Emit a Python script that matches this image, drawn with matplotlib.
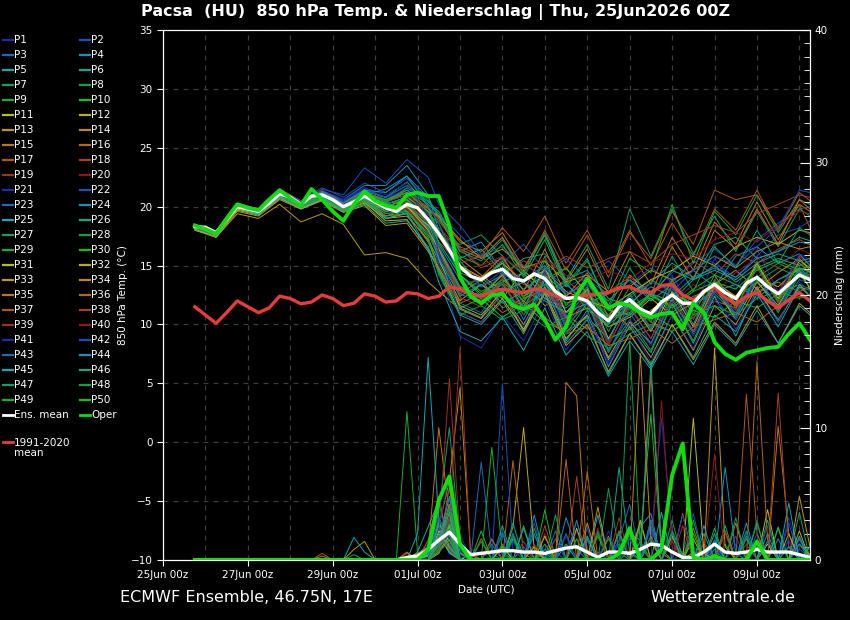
import matplotlib
matplotlib.use("Agg")
import matplotlib.pyplot as plt
import matplotlib.dates as mdates
from matplotlib.lines import Line2D
from matplotlib.ticker import MultipleLocator
import pandas as pd

# forecast run 25Jun2026 00Z, Pacsa (HU)
times_6h = pd.date_range("2026-06-25 18:00", "2026-07-10 06:00", freq="6h")
# member temperatures: 06/18z until 01Jul, then 00/12z, last step 10Jul 06z
times_member = (pd.date_range("2026-06-25 18:00", "2026-07-01 06:00", freq="12h")
                .append(pd.date_range("2026-07-01 12:00", "2026-07-10 00:00", freq="12h"))
                .append(pd.DatetimeIndex(["2026-07-10 06:00"])))
tick_days = pd.date_range("2026-06-25", "2026-07-09", freq="2D")

# 850 hPa temperature, 6-hourly
ens_mean_temp = [18.3, 18.25, 17.8, 18.9, 20.0, 19.8, 19.6, 20.3, 21.1, 20.8,
                 20.2, 20.9, 21.0, 20.6, 20.0, 20.4, 20.9, 20.4, 19.9, 19.6,
                 20.2, 19.9, 18.9, 17.7, 16.3, 14.9, 14.1, 13.8, 14.4, 14.7,
                 13.9, 13.7, 14.3, 13.9, 12.8, 12.2, 12.3, 12.0, 11.0, 10.3,
                 11.5, 12.1, 11.3, 10.9, 11.9, 12.5, 11.8, 11.8, 12.8, 13.4,
                 12.7, 12.2, 13.5, 14.0, 13.2, 12.6, 13.4, 14.2, 13.8]
oper_temp = [18.4, 18.1, 17.7, 19.0, 20.2, 19.9, 19.7, 20.6, 21.4, 20.7,
             20.1, 21.5, 20.6, 19.6, 18.8, 20.2, 21.3, 20.5, 20.1, 19.9,
             21.0, 21.2, 20.9, 20.9, 18.4, 14.0, 12.4, 11.8, 12.5, 12.6,
             11.6, 11.3, 11.7, 10.4, 8.7, 9.8, 12.5, 13.9, 12.6, 11.4,
             11.8, 11.6, 11.0, 10.6, 10.9, 11.0, 9.6, 11.8, 11.0, 8.5,
             7.5, 7.0, 7.6, 7.8, 8.0, 8.1, 9.2, 10.1, 8.7]
clim_temp = [11.5, 10.8, 10.1, 11.0, 12.0, 11.5, 11.0, 11.4, 12.4, 12.2,
             11.75, 11.9, 12.5, 12.2, 11.6, 11.8, 12.6, 12.4, 11.9, 12.0,
             12.7, 12.6, 12.2, 12.4, 13.2, 13.0, 12.6, 12.4, 12.8, 13.0,
             12.8, 12.7, 13.0, 12.9, 12.4, 12.2, 12.4, 12.5, 12.6, 12.7,
             13.1, 13.2, 12.8, 12.7, 13.3, 13.4, 12.5, 12.1, 12.8, 13.2,
             12.3, 11.7, 12.4, 12.7, 12.0, 11.4, 12.1, 12.7, 12.0]

# precipitation (mm), 6-hourly
ens_mean_precip = [0] * 20 + [0.2, 0.3, 0.8, 1.5, 2.1, 1.2, 0.4, 0.5, 0.6, 0.7,
                              0.7, 0.6, 0.6, 0.5, 0.7, 0.9, 1.0, 0.6, 0.2, 0.6,
                              0.6, 0.5, 0.8, 1.2, 1.1, 0.6, 0.2, 0.2, 0.6, 1.2,
                              0.6, 0.5, 0.6, 0.8, 0.6, 0.6, 0.6, 0.4, 0.2]
oper_precip = [0] * 22 + [0.8, 4.5, 6.3, 1.2, 0, 0, 0, 0, 0, 0,
                          0, 0, 0, 0, 0, 0, 0, 0, 0.5, 2.4,
                          0, 0, 0.8, 6.4, 8.8, 0.2, 0, 0.3, 0, 0,
                          0, 1.4, 0, 0, 0, 0, 0]

# members P1..P50: 850 hPa temperature on times_member
t_p01 = [18.2, 17.6, 19.9, 19.5, 21.0, 20.3, 21.3, 20.5, 21.5, 20.8, 21.4, 19.5, 17.6, 14.0, 13.2, 15.6, 12.4, 14.8, 10.2, 12.9, 8.6, 12.4, 9.8, 14.2, 11.0, 15.6, 13.0, 16.4, 12.8, 15.9, 15.1]
t_p02 = [18.4, 17.9, 20.1, 19.7, 21.3, 20.1, 21.5, 21.0, 23.3, 22.0, 24.0, 22.5, 20.2, 18.4, 16.0, 15.2, 16.8, 14.6, 13.2, 14.0, 15.4, 13.8, 12.6, 14.4, 16.0, 15.2, 14.0, 15.8, 17.6, 18.2, 18.8]
t_p03 = [18.1, 17.4, 19.8, 19.4, 20.9, 20.0, 20.8, 19.8, 20.6, 19.2, 19.9, 17.0, 15.1, 11.8, 11.0, 13.6, 10.4, 13.8, 9.6, 12.2, 7.6, 11.4, 8.8, 12.6, 9.4, 13.4, 10.6, 14.2, 11.2, 13.8, 13.5]
t_p04 = [18.3, 17.7, 20.2, 19.8, 21.4, 20.4, 21.2, 20.2, 21.0, 21.5, 22.6, 20.8, 19.0, 16.2, 17.0, 14.6, 13.8, 15.0, 12.4, 11.8, 12.6, 13.8, 12.0, 13.4, 14.6, 13.2, 15.8, 16.6, 15.2, 16.0, 15.0]
t_p05 = [18.0, 17.5, 19.9, 19.3, 21.0, 20.0, 21.1, 20.0, 21.2, 19.0, 19.5, 17.8, 15.6, 11.4, 10.6, 13.0, 9.4, 13.8, 8.6, 11.2, 6.4, 10.0, 7.6, 11.8, 8.4, 12.4, 9.0, 13.0, 10.4, 13.2, 12.9]
t_p06 = [18.4, 17.8, 20.0, 19.6, 21.2, 20.3, 21.0, 20.1, 20.7, 20.2, 20.8, 19.6, 18.0, 15.4, 13.2, 14.2, 15.6, 16.0, 13.8, 14.6, 12.2, 11.6, 13.6, 15.2, 14.0, 16.8, 17.4, 15.6, 16.2, 17.4, 17.1]
t_p07 = [18.2, 17.9, 20.1, 19.5, 21.0, 20.1, 21.2, 20.1, 21.0, 20.5, 21.0, 19.0, 18.0, 14.6, 13.8, 15.2, 11.8, 15.8, 11.0, 13.2, 9.4, 12.6, 9.6, 13.4, 10.0, 13.8, 12.2, 15.2, 11.8, 14.8, 14.0]
t_p08 = [18.5, 17.9, 20.2, 19.7, 21.3, 20.4, 21.3, 20.3, 21.4, 20.8, 22.1, 20.0, 17.6, 16.8, 17.6, 15.8, 14.2, 13.4, 14.8, 12.6, 10.8, 12.4, 13.8, 12.8, 11.6, 13.0, 12.2, 14.0, 15.2, 14.4, 14.2]
t_p09 = [18.3, 17.8, 19.9, 19.6, 21.1, 20.2, 20.9, 19.9, 20.5, 19.4, 19.7, 17.6, 16.1, 13.0, 12.2, 13.4, 10.8, 13.2, 9.2, 11.8, 7.8, 10.4, 7.8, 11.8, 8.6, 12.6, 10.8, 13.8, 11.0, 14.2, 13.2]
t_p10 = [18.4, 17.8, 20.0, 19.6, 21.1, 20.2, 21.0, 20.0, 21.0, 20.3, 20.5, 19.3, 18.6, 14.2, 12.8, 13.6, 12.0, 13.8, 14.8, 12.6, 11.2, 10.8, 12.4, 11.6, 13.0, 14.2, 13.4, 12.6, 13.8, 14.6, 13.9]
t_p11 = [18.2, 17.6, 19.8, 19.4, 20.8, 19.8, 20.6, 19.6, 20.4, 18.8, 18.9, 16.4, 14.6, 11.0, 10.2, 12.2, 9.6, 12.8, 8.8, 10.8, 7.2, 10.2, 8.4, 12.0, 9.4, 13.2, 10.4, 13.6, 11.6, 14.6, 13.0]
t_p12 = [18.1, 17.5, 19.7, 19.3, 20.7, 19.9, 20.6, 19.7, 20.3, 19.0, 19.2, 17.2, 15.4, 12.0, 13.4, 12.2, 14.6, 12.8, 10.6, 11.4, 9.8, 10.6, 12.2, 10.8, 11.8, 13.6, 12.4, 14.0, 13.2, 14.8, 14.5]
t_p13 = [18.0, 17.4, 19.4, 19.0, 20.2, 18.7, 19.4, 18.5, 15.9, 16.1, 15.6, 13.6, 12.8, 11.3, 10.5, 12.6, 10.0, 13.2, 9.2, 10.8, 7.0, 9.8, 7.2, 10.8, 7.8, 11.6, 10.0, 13.2, 10.2, 13.4, 12.4]
t_p14 = [18.3, 17.7, 19.9, 19.5, 21.0, 20.2, 21.1, 20.0, 20.8, 19.6, 20.0, 18.4, 17.8, 15.6, 14.2, 12.8, 13.6, 11.6, 12.4, 13.8, 11.4, 9.8, 11.2, 12.6, 11.8, 13.4, 14.6, 13.0, 14.4, 15.6, 14.6]
t_p15 = [18.4, 17.9, 20.3, 19.8, 21.5, 20.5, 21.4, 20.4, 21.2, 20.6, 21.2, 19.8, 19.2, 17.0, 16.2, 17.8, 14.8, 17.6, 13.6, 16.4, 12.6, 16.2, 13.4, 17.4, 14.6, 18.7, 16.8, 20.4, 17.2, 20.2, 19.6]
t_p16 = [18.2, 17.7, 20.0, 19.6, 21.0, 20.0, 20.9, 19.8, 20.6, 19.8, 20.4, 18.6, 16.4, 12.6, 13.8, 11.4, 12.2, 13.0, 10.8, 9.6, 10.4, 11.8, 10.2, 9.4, 10.6, 12.0, 11.4, 12.8, 13.6, 12.8, 13.2]
t_p17 = [18.3, 17.8, 20.1, 19.7, 21.2, 20.3, 21.1, 20.1, 21.1, 20.4, 21.4, 19.9, 19.0, 16.6, 15.8, 18.2, 16.2, 19.2, 15.2, 18.0, 14.4, 18.0, 15.0, 18.6, 15.8, 19.8, 18.0, 21.4, 18.0, 21.2, 20.5]
t_p18 = [18.4, 17.8, 20.0, 19.6, 21.1, 20.2, 21.0, 20.0, 20.9, 20.0, 20.6, 19.0, 18.2, 16.4, 14.8, 15.6, 13.4, 12.6, 13.8, 12.2, 12.8, 14.0, 12.8, 13.6, 15.4, 14.2, 16.0, 15.2, 16.4, 17.2, 16.8]
t_p19 = [18.3, 17.7, 19.9, 19.5, 21.0, 20.1, 20.9, 19.9, 20.8, 19.6, 20.0, 18.2, 16.2, 12.3, 11.5, 14.0, 11.2, 14.4, 10.0, 12.2, 8.2, 11.8, 9.8, 13.4, 10.4, 13.8, 11.8, 15.4, 12.6, 15.8, 15.0]
t_p20 = [18.2, 17.6, 19.8, 19.4, 20.9, 20.0, 20.8, 19.8, 20.7, 19.5, 19.8, 18.0, 16.6, 13.2, 14.0, 12.6, 13.8, 12.2, 11.6, 12.8, 10.4, 11.2, 12.6, 11.8, 13.4, 12.6, 14.4, 15.6, 14.8, 16.4, 16.0]
t_p21 = [18.3, 17.6, 20.0, 19.6, 21.2, 20.3, 21.2, 20.4, 21.6, 20.6, 21.6, 18.5, 15.2, 9.0, 8.0, 10.8, 8.6, 12.2, 7.8, 10.6, 6.6, 10.0, 6.8, 10.8, 8.0, 12.0, 10.4, 14.0, 12.2, 16.0, 15.5]
t_p22 = [18.4, 17.8, 20.2, 19.8, 21.4, 20.5, 21.6, 20.8, 22.0, 21.2, 22.4, 20.6, 19.4, 17.6, 15.8, 16.6, 15.0, 14.2, 15.6, 13.8, 12.6, 13.4, 14.8, 13.6, 15.2, 16.4, 15.0, 17.2, 18.6, 19.8, 20.0]
t_p23 = [18.2, 17.6, 19.9, 19.5, 21.0, 20.1, 21.0, 20.0, 21.0, 20.0, 20.6, 18.0, 15.8, 12.6, 11.8, 13.6, 10.4, 14.0, 9.8, 11.8, 7.6, 11.0, 8.4, 12.2, 9.2, 12.8, 11.0, 14.2, 11.2, 14.4, 13.6]
t_p24 = [18.3, 17.8, 20.0, 19.7, 21.3, 20.4, 21.3, 20.6, 21.8, 21.8, 23.5, 21.0, 18.0, 14.2, 12.4, 13.6, 14.4, 12.2, 11.4, 12.8, 10.2, 11.6, 10.8, 12.4, 11.6, 12.8, 13.4, 12.2, 13.8, 14.8, 14.4]
t_p25 = [18.1, 17.5, 19.8, 19.3, 20.8, 19.9, 20.7, 19.6, 20.2, 18.6, 18.8, 16.6, 14.4, 10.8, 10.0, 12.0, 9.2, 12.8, 8.4, 10.4, 5.8, 9.2, 6.4, 10.0, 7.2, 10.8, 9.4, 12.6, 9.8, 13.2, 12.4]
t_p26 = [18.4, 17.9, 20.1, 19.7, 21.2, 20.2, 21.1, 20.2, 21.2, 20.4, 21.0, 19.4, 17.6, 15.6, 16.4, 14.4, 13.0, 14.2, 12.6, 13.4, 12.0, 13.8, 12.4, 14.6, 13.8, 15.0, 13.6, 14.8, 15.6, 15.0, 15.4]
t_p27 = [18.3, 17.8, 20.0, 19.6, 21.1, 20.2, 21.1, 20.1, 21.0, 20.3, 21.6, 20.4, 19.6, 16.4, 15.6, 17.4, 14.2, 17.8, 13.8, 16.8, 13.0, 19.8, 15.8, 19.8, 16.0, 19.2, 16.2, 19.6, 16.6, 19.8, 19.2]
t_p28 = [18.2, 17.7, 19.9, 19.5, 21.0, 20.1, 21.0, 19.9, 20.7, 19.8, 20.2, 18.6, 16.2, 13.0, 14.0, 12.4, 11.6, 12.8, 13.6, 11.2, 10.0, 11.4, 12.6, 11.0, 12.4, 13.0, 12.2, 13.6, 14.8, 14.0, 14.6]
t_p29 = [18.4, 17.9, 20.2, 19.7, 21.2, 20.3, 21.2, 20.2, 21.3, 20.8, 21.8, 20.5, 19.2, 15.8, 15.0, 16.8, 14.0, 17.2, 13.2, 15.4, 11.6, 15.6, 14.4, 20.2, 15.2, 19.6, 17.6, 21.0, 17.8, 20.6, 20.2]
t_p30 = [18.3, 17.8, 20.0, 19.5, 21.0, 20.0, 20.8, 19.6, 20.4, 19.2, 19.6, 17.4, 14.6, 11.4, 12.2, 10.6, 11.8, 10.2, 9.4, 10.6, 8.8, 9.6, 10.8, 9.8, 11.2, 10.6, 12.0, 11.4, 12.6, 13.4, 13.0]
t_p31 = [18.2, 17.6, 19.8, 19.4, 20.9, 20.1, 20.9, 19.8, 20.6, 19.6, 20.0, 18.0, 16.4, 13.2, 12.4, 14.2, 11.4, 14.8, 11.0, 13.0, 8.8, 12.0, 9.4, 12.8, 9.8, 13.6, 11.8, 15.2, 12.2, 15.4, 14.8]
t_p32 = [18.3, 17.7, 20.0, 19.6, 21.1, 20.1, 20.9, 19.9, 20.8, 19.8, 20.0, 18.4, 17.4, 15.0, 14.0, 15.2, 13.6, 14.6, 12.8, 12.0, 11.4, 12.6, 13.8, 14.6, 15.8, 15.0, 16.6, 17.4, 16.8, 18.0, 17.8]
t_p33 = [18.1, 17.4, 19.6, 19.2, 20.6, 19.8, 20.5, 19.5, 20.1, 18.4, 18.6, 16.2, 14.8, 11.6, 10.8, 12.8, 9.4, 12.6, 8.2, 10.0, 6.0, 9.2, 6.6, 10.0, 7.0, 10.2, 8.4, 11.6, 8.4, 11.8, 11.0]
t_p34 = [18.4, 17.9, 20.1, 19.7, 21.2, 20.2, 21.1, 20.0, 20.9, 20.2, 20.8, 19.6, 19.2, 17.2, 15.6, 16.4, 14.8, 15.4, 13.6, 14.2, 12.8, 13.2, 14.6, 13.8, 14.6, 15.8, 14.8, 16.2, 17.0, 16.4, 16.6]
t_p35 = [18.3, 17.8, 20.0, 19.6, 21.1, 20.2, 21.0, 20.0, 20.9, 20.0, 20.6, 19.0, 17.8, 14.8, 14.0, 15.8, 12.8, 16.4, 12.4, 14.4, 10.6, 14.2, 12.6, 16.6, 13.8, 18.0, 16.4, 19.8, 16.8, 20.6, 19.8]
t_p36 = [18.2, 17.7, 19.9, 19.5, 21.0, 20.1, 20.9, 19.8, 20.5, 19.2, 19.4, 17.0, 14.8, 11.8, 12.6, 11.0, 12.0, 10.6, 9.2, 9.8, 8.2, 8.8, 9.6, 8.4, 9.8, 10.4, 11.0, 10.2, 11.6, 12.4, 12.2]
t_p37 = [18.4, 17.9, 20.2, 19.8, 21.4, 20.4, 21.3, 20.3, 21.2, 20.6, 21.2, 19.8, 18.8, 16.4, 15.6, 17.4, 14.6, 18.0, 14.6, 17.6, 14.0, 17.8, 15.6, 19.6, 16.8, 21.4, 20.6, 21.0, 18.2, 20.2, 18.2]
t_p38 = [18.3, 17.7, 20.0, 19.6, 21.1, 20.2, 21.0, 20.0, 20.8, 19.8, 20.2, 18.8, 17.0, 15.2, 15.8, 14.2, 15.4, 14.6, 15.8, 14.8, 15.6, 16.2, 15.2, 16.8, 17.6, 18.4, 17.8, 19.4, 20.2, 21.0, 20.8]
t_p39 = [18.2, 17.6, 19.9, 19.5, 21.0, 20.0, 20.9, 19.9, 20.8, 19.6, 19.8, 17.8, 16.0, 12.8, 12.0, 13.6, 10.8, 14.2, 10.4, 12.4, 8.4, 11.6, 8.8, 12.2, 9.4, 13.0, 11.2, 14.8, 11.8, 15.6, 14.0]
t_p40 = [18.4, 17.8, 20.1, 19.7, 21.2, 20.3, 21.2, 20.2, 21.2, 20.4, 21.0, 19.4, 17.8, 16.4, 15.0, 15.8, 14.4, 15.6, 14.2, 13.6, 14.6, 13.8, 15.2, 16.0, 15.6, 17.2, 17.8, 17.0, 18.4, 19.6, 19.4]
t_p41 = [18.3, 17.7, 20.0, 19.7, 21.3, 20.4, 21.4, 20.6, 21.6, 21.0, 22.0, 19.2, 16.2, 11.0, 10.2, 12.6, 9.8, 13.4, 9.2, 11.0, 6.8, 10.4, 8.2, 12.0, 9.0, 12.6, 9.6, 12.8, 10.2, 13.6, 12.8]
t_p42 = [18.2, 17.6, 20.0, 19.5, 21.1, 20.2, 21.2, 20.4, 21.4, 20.8, 21.8, 20.2, 18.6, 15.0, 13.2, 14.6, 13.8, 14.8, 12.6, 13.4, 11.4, 12.2, 13.6, 12.8, 14.6, 15.8, 15.0, 16.6, 18.2, 21.4, 21.2]
t_p43 = [18.3, 17.8, 20.1, 19.6, 21.2, 20.2, 21.1, 20.1, 21.1, 20.2, 20.8, 18.8, 16.6, 13.2, 12.4, 14.4, 11.4, 14.6, 10.6, 12.8, 8.6, 12.2, 9.6, 13.2, 10.0, 13.6, 10.8, 14.2, 11.4, 14.6, 14.0]
t_p44 = [18.4, 17.9, 20.2, 19.7, 21.2, 20.3, 21.2, 20.3, 21.4, 21.2, 22.6, 20.0, 16.8, 13.8, 11.8, 12.8, 13.6, 12.2, 13.4, 11.8, 10.6, 11.8, 13.2, 12.4, 14.0, 14.8, 14.0, 15.6, 16.2, 17.0, 16.8]
t_p45 = [18.2, 17.6, 19.9, 19.4, 20.9, 20.0, 20.8, 19.7, 20.6, 19.0, 19.4, 16.4, 13.6, 9.4, 8.6, 10.6, 7.8, 11.4, 7.4, 9.4, 5.6, 8.6, 6.2, 9.4, 6.6, 10.0, 8.2, 11.2, 8.4, 11.6, 10.8]
t_p46 = [18.3, 17.8, 20.0, 19.6, 21.1, 20.1, 21.0, 19.9, 20.7, 19.6, 20.2, 18.2, 15.6, 12.4, 13.4, 11.8, 12.8, 12.0, 11.0, 11.8, 9.8, 10.8, 12.6, 12.0, 13.8, 14.6, 13.8, 15.2, 16.0, 15.4, 15.6]
t_p47 = [18.4, 17.9, 20.1, 19.7, 21.2, 20.3, 21.2, 20.1, 21.0, 20.6, 21.4, 20.2, 19.4, 16.2, 15.4, 17.2, 14.4, 17.6, 13.4, 15.6, 11.4, 14.8, 12.0, 15.8, 12.8, 16.6, 14.8, 18.0, 15.2, 18.2, 17.6]
t_p48 = [18.2, 17.7, 19.9, 19.5, 21.0, 20.1, 20.9, 19.8, 20.6, 19.4, 19.6, 17.4, 14.2, 10.8, 11.6, 10.4, 11.2, 9.8, 10.6, 9.0, 8.0, 9.2, 10.0, 9.4, 10.8, 11.6, 10.8, 12.2, 12.8, 12.2, 12.6]
t_p49 = [18.3, 17.8, 20.0, 19.6, 21.2, 20.2, 21.1, 20.1, 21.2, 20.4, 21.2, 19.6, 17.8, 14.4, 13.6, 15.4, 12.2, 15.4, 11.6, 13.8, 10.0, 13.2, 10.2, 13.8, 10.8, 14.2, 11.4, 15.0, 12.0, 15.2, 14.4]
t_p50 = [18.4, 17.8, 20.1, 19.7, 21.1, 20.1, 21.0, 20.0, 20.9, 20.0, 20.6, 18.9, 17.0, 14.2, 12.6, 13.8, 12.4, 13.4, 11.8, 12.4, 10.6, 11.0, 12.6, 11.4, 12.8, 13.6, 13.0, 14.6, 15.4, 14.6, 15.0]

# members P1..P50: precipitation (mm), 6-hourly
r_p01 = [0] * 19 + [0, 0, 0.4, 1.2, 2.5, 1.0, 0, 0.8, 0.6, 0, 0, 1.4, 0, 1.8, 0.4, 0, 0, 2.2, 0, 0, 0.3, 0, 0, 1.0, 1.5, 10.7, 2.0, 0, 0, 0.6, 0, 0, 1.2, 0, 0, 2.6, 0, 3.2, 0.5, 0]
r_p02 = [0] * 19 + [0, 0, 0, 0.5, 3.0, 2.2, 0.8, 0, 0, 1.5, 0.4, 0, 0, 2.8, 0, 0.6, 0, 0, 2.4, 0, 0, 1.2, 0, 1.0, 0, 0, 0, 0.5, 3.5, 0, 0, 0, 1.8, 0, 2.0, 0, 0, 0, 0.8, 0.2]
r_p03 = [0] * 19 + [0, 0, 0, 0, 1.0, 2.8, 0, 0, 7.4, 0.5, 0, 0, 1.0, 0, 0, 2.2, 0, 0, 0, 0.6, 0, 1.5, 4.2, 0, 0, 0, 1.8, 0, 0, 0, 1.2, 0, 0, 0, 3.0, 0, 0, 0, 0, 1.0]
r_p04 = [0] * 19 + [0, 0, 0, 0.8, 2.0, 0.5, 0, 0, 0, 0, 2.0, 0, 1.4, 0, 0, 0, 3.2, 0.8, 0, 0, 0, 0, 0, 2.5, 3.5, 0, 0, 0, 0, 1.2, 0, 0, 0, 2.8, 0, 2.0, 0, 0, 1.6, 0]
r_p05 = [0] * 19 + [0, 0, 0.6, 2.5, 4.5, 1.0, 0, 0.5, 0, 0, 0, 1.8, 0, 0, 0, 0, 1.2, 0, 0, 3.4, 0, 0, 0, 0, 0, 0, 2.2, 0.4, 0, 0, 1.5, 0, 0, 0, 0, 0, 2.5, 0, 0, 0]
r_p06 = [0] * 19 + [0, 0, 0, 0, 1.5, 3.2, 0.6, 0, 0, 0, 0, 2.0, 0, 0, 0.8, 0, 0, 0, 1.6, 0, 0, 0, 0.7, 0, 3.0, 0, 0, 0, 0, 2.0, 0, 0, 0, 1.6, 0, 0, 0, 1.0, 0, 0]
r_p07 = [0] * 19 + [0, 0, 0, 0.4, 3.6, 10.0, 1.0, 0, 0, 0, 1.2, 0, 0, 0, 0.5, 0, 0, 3.0, 0, 0, 0, 0, 0, 0, 1.4, 0, 0, 0, 0, 0, 0.8, 0, 0, 2.2, 0, 0, 0, 0, 3.6, 0]
r_p08 = [0] * 15 + [0.4, 0, 0, 0] + [0, 0, 0, 0, 0.6, 2.5, 0, 0, 0, 1.2, 0, 0, 0, 2.4, 0, 0, 0, 0, 0, 0, 5.4, 0.6, 0, 0, 0, 0, 3.0, 0, 0, 0, 0, 0, 0, 0, 0, 1.4, 0, 0, 0, 0.5]
r_p09 = [0] * 19 + [0, 11.2, 0.5, 0, 2.0, 0.8, 0, 0, 0, 0, 0, 0, 2.6, 0, 0, 0, 0, 0, 0, 1.8, 0, 0, 0, 0, 0, 0, 0, 0, 3.0, 0, 0, 1.2, 0, 0, 0, 0, 0, 0, 0, 0]
r_p10 = [0] * 19 + [0, 0, 0, 0, 1.2, 4.0, 0, 0, 0, 0, 0, 0, 0, 0, 3.8, 0, 0, 0, 0, 0, 0, 0, 2.0, 1.5, 11.0, 0.5, 0, 0, 0, 0, 0, 0, 0, 0, 1.5, 0, 0, 0, 0, 0]
r_p11 = [0] * 19 + [0, 0, 0, 0.3, 1.8, 0.6, 0, 0.4, 0, 0, 1.0, 0, 0, 0, 0, 0, 0, 2.4, 0, 0, 0, 0, 0, 0, 0, 0, 0, 0, 1.6, 0, 0, 0, 0, 0, 0, 3.8, 0, 0, 0, 0]
r_p12 = [0] * 19 + [0, 0, 0, 0, 0.8, 2.6, 0, 0, 0, 0, 0, 2.5, 10.0, 0.8, 0, 0, 0, 0, 0, 0, 0, 0, 0, 0, 0, 0, 1.8, 0, 0, 0, 0, 0, 0, 0, 0, 0, 0, 0, 2.2, 0]
r_p13 = [0] * 15 + [0.8, 1.4, 0, 0] + [0, 0.2, 0.5, 1.0, 2.4, 1.2, 0, 0, 0, 0, 0, 0, 0, 0, 0, 1.6, 0, 0, 0, 0, 0, 0, 0, 0, 0, 0, 0, 0, 0.6, 0, 16.0, 1.0, 0, 0, 0, 0, 0, 0, 0, 0]
r_p14 = [0] * 19 + [0, 0, 0, 0, 2.5, 6.0, 13.0, 0.5, 0, 0, 0, 0, 0, 0, 0, 0, 0, 0, 2.8, 0, 0, 0, 0, 0, 0, 0, 0, 3.5, 0, 0, 0, 0, 0, 0, 0, 0, 0, 0, 1.2, 0.4]
r_p15 = [0] * 19 + [0, 0, 0, 0.6, 10.0, 3.5, 0, 0, 0, 0, 0, 0, 0, 0, 0, 0, 0, 0, 0, 0, 0, 2.2, 0, 0, 0, 0, 0, 0, 0, 0, 0, 0, 2.8, 0, 0, 0, 10.1, 2.0, 0, 0]
r_p16 = [0] * 19 + [0, 0, 0, 0, 1.0, 2.0, 0.5, 0, 0, 0, 0, 7.5, 0.5, 0, 0, 0, 0, 0, 0, 0, 1.8, 0, 0, 0, 0, 0, 0, 0, 0, 0, 0, 0, 0, 0, 15.0, 1.5, 0, 0, 0, 0]
r_p17 = [0] * 12 + [0.5, 0, 0, 0, 0, 0, 0] + [0, 0.5, 0, 1.5, 4.8, 0.8, 0, 0, 1.6, 0, 0, 0, 0, 0, 0, 0, 0, 0, 0, 0, 0, 0, 0, 0, 0, 0, 0, 0, 0, 0, 0, 0, 0, 12.5, 2.0, 0, 0, 0, 0, 0]
r_p18 = [0] * 19 + [0, 0, 0, 0, 0.5, 3.2, 1.0, 0, 0, 0, 0, 0, 0, 0, 0, 0, 0, 6.3, 0, 0, 0, 0, 0, 0, 0, 0, 0, 0, 0, 0, 0, 2.0, 0, 0, 0, 0, 0, 0, 0, 0]
r_p19 = [0] * 19 + [0, 0, 0, 0, 2.0, 13.7, 1.5, 0, 0, 0, 0, 0, 0, 1.2, 0, 0, 0, 0, 0, 0, 0, 0, 0, 0, 0, 0, 0, 2.6, 0, 1.4, 0, 0, 0, 0, 0, 0, 0, 0, 0, 0]
r_p20 = [0] * 19 + [0, 0, 0, 0, 0.8, 1.6, 0, 0, 0, 0, 0, 0, 0, 0, 2.0, 0, 0, 0, 0, 0, 0, 0, 0, 0, 0, 12.0, 1.0, 0, 0, 0, 0, 0, 0, 0, 0, 0, 0, 0, 0, 0]
r_p21 = [0] * 19 + [0, 0, 0, 0.6, 2.0, 4.5, 2.0, 0, 0, 0, 0, 0, 0, 0, 0, 1.6, 0, 0, 0, 0, 2.2, 0, 0, 0, 0, 0, 0, 0, 0, 0, 1.0, 0, 0, 0, 0, 0, 0, 1.4, 0, 0]
r_p22 = [0] * 19 + [0, 0, 0, 0, 0.8, 1.2, 0, 0, 0, 0, 13.3, 0.8, 0, 0, 0, 0, 0, 0, 1.4, 0, 0, 0, 0, 0, 2.4, 0, 0, 0, 0, 0, 0, 0, 0, 2.0, 0, 0, 0, 0, 0, 0]
r_p23 = [0] * 19 + [0, 0, 0, 0, 1.5, 3.0, 0, 0, 0, 1.6, 0, 0, 0, 0, 0, 0, 0, 3.0, 0, 0, 0, 0, 0, 0, 2.6, 0, 0, 0, 0, 0, 0, 0, 0, 0, 1.4, 0, 0, 0, 0, 0]
r_p24 = [0] * 19 + [0, 0, 0, 0.5, 2.2, 0.6, 0, 0, 0, 0, 0, 0, 0, 3.4, 0, 0, 0, 0, 0, 0, 0, 2.0, 0, 0, 0, 0, 0, 0, 0, 0, 0, 7.0, 0.5, 0, 0, 0, 1.6, 0, 0, 0]
r_p25 = [0] * 19 + [0, 0, 2.0, 15.3, 3.0, 0.6, 0, 0, 0, 0, 0, 0, 2.4, 0, 0, 0, 0, 0, 0, 0, 0, 0, 0, 0, 0, 3.6, 0, 0, 0, 0, 0, 0, 0, 0, 0, 0, 0, 0, 1.8, 0]
r_p26 = [0] * 19 + [0, 0, 0, 0, 1.2, 2.4, 0, 0, 0, 0, 0, 0, 0, 0, 1.2, 0, 0, 0, 0, 0, 0, 7.0, 0.5, 0, 0, 0, 0, 0, 0, 0, 0, 2.6, 0, 0, 0, 0, 0, 0, 0, 0]
r_p27 = [0] * 19 + [0, 0, 0, 0, 3.0, 1.0, 0, 0, 0, 0, 2.6, 0, 0, 0, 0, 0, 0, 0, 0, 2.2, 0, 0, 0, 0, 1.8, 0, 0, 0, 0, 0, 0, 0, 0, 0, 0, 3.0, 0, 0, 0, 0]
r_p28 = [0] * 19 + [0, 0, 0, 0, 1.0, 2.0, 0, 0, 1.4, 0, 0, 0, 0, 0, 0, 0, 0, 0, 0, 0, 0, 0, 16.5, 1.0, 0, 0, 0, 0, 0, 0, 0, 0, 0, 1.8, 0, 0, 0, 0, 0, 0]
r_p29 = [0] * 19 + [0, 0, 0, 0, 0.6, 2.8, 0.5, 0, 0, 8.5, 0.6, 0, 0, 0, 0, 0, 0, 0, 0, 2.0, 0, 0, 0, 0, 0, 0, 0, 0, 0, 0, 2.4, 0, 0, 0, 0, 0, 0, 0, 0, 0]
r_p30 = [0] * 19 + [0, 0, 0, 0, 1.8, 0.8, 0, 0, 0, 0, 0, 1.6, 0, 0, 0, 0, 0, 0, 0, 0, 0, 0, 0, 2.8, 0, 0, 0, 0, 0, 0, 0, 0, 0, 0, 0, 0, 2.4, 0, 0, 0]
r_p31 = [0] * 19 + [0, 0, 0, 0, 2.2, 1.5, 0, 0, 0, 0, 0, 0, 0, 0, 1.8, 0, 0, 0, 0, 0, 0, 0, 0, 0, 0, 0, 0, 0, 10.7, 0.5, 0, 0, 0, 0, 0, 1.2, 0, 0, 0, 0]
r_p32 = [0] * 19 + [0, 0, 0, 0.4, 1.6, 3.5, 0, 0, 0, 0, 0, 0, 0, 1.0, 0, 0, 0, 0, 0, 0, 0, 0, 0, 3.0, 0, 0, 0, 0, 0, 0, 0, 0, 0, 0, 0, 0, 0, 2.0, 0, 0]
r_p33 = [0] * 19 + [0, 0, 0, 0, 0.5, 2.0, 0, 0, 0, 0, 0, 0, 0, 0, 0, 0, 0, 0, 0, 4.0, 0, 0, 0, 0, 0, 0, 0, 0, 0, 0, 0, 0, 0, 0, 0, 0, 0, 0, 4.8, 1.0]
r_p34 = [0] * 19 + [0, 0, 0, 0, 2.8, 1.0, 0, 0, 0, 0, 0, 0, 0, 0, 0, 0, 0, 0, 0, 0, 0, 0, 0, 15.6, 1.5, 0, 0, 0, 0, 0, 0, 0, 0, 0, 1.0, 0, 0, 0, 0, 0]
r_p35 = [0] * 12 + [0.3, 0, 0, 0, 0, 0, 0] + [0, 0.6, 0, 0, 1.5, 4.2, 0.5, 0, 0, 0, 0, 0, 0, 0, 0, 0, 13.4, 12.4, 0, 0, 0, 0, 0, 0, 0, 0, 0, 0, 0, 0, 0, 0, 0, 0, 0, 0, 0, 0, 0, 0]
r_p36 = [0] * 19 + [0, 0, 0, 0, 1.0, 2.2, 0, 0, 0, 0, 0, 0, 0, 0, 0, 0, 7.6, 0, 6.7, 0, 0, 0, 0, 0, 0, 0, 0, 0, 2.4, 0, 0, 0, 0, 0, 0, 0, 0, 0, 0, 0]
r_p37 = [0] * 19 + [0, 0, 0, 0, 0.8, 5.5, 0, 0, 0, 1.6, 0, 0, 0, 0, 0, 0, 0, 0, 0, 0, 0, 0, 0, 0, 14.0, 0.5, 0, 0, 0, 0, 0, 2.2, 0, 0, 0, 0, 0, 0, 0, 0]
r_p38 = [0] * 19 + [0, 0, 0, 0, 1.8, 0.8, 0, 0, 0, 0, 0, 0, 0, 0, 2.6, 0, 0, 0, 0, 0, 0, 0, 0, 0, 0, 0, 1.4, 0, 0, 0, 0, 0, 0, 0, 0, 0, 12.6, 1.0, 0, 0]
r_p39 = [0] * 19 + [0, 0, 0, 0, 1.0, 3.0, 16.0, 0.5, 0, 0, 0, 0, 0, 0, 0, 0, 0, 0, 0, 0, 0, 3.2, 0, 0, 0, 0, 0, 0, 0, 0, 0, 0, 0, 1.2, 0, 0, 0, 0, 0, 0]
r_p40 = [0] * 19 + [0, 0, 0, 0, 0.6, 1.4, 0, 0, 0, 0, 0, 0, 1.4, 0, 0, 0, 0, 0, 0, 2.4, 0, 0, 0, 0, 0, 0, 0, 0, 0, 0, 8.0, 0, 0, 0, 0, 0, 0, 0, 0, 0]
r_p41 = [0] * 19 + [0, 0, 0, 0.2, 2.4, 6.5, 0.4, 0, 0, 0, 0, 0, 0, 0, 0, 0, 1.8, 0, 0, 0, 0, 0, 0, 0, 0, 0, 0, 3.4, 0, 0, 0, 0, 0, 0, 0, 0, 0, 1.6, 0, 0]
r_p42 = [0] * 19 + [0, 0, 0, 0, 0.8, 2.0, 0, 0, 0, 0, 2.2, 0, 0, 0, 0, 0, 0, 0, 0, 0, 0, 0, 1.6, 0, 0, 0, 0, 0, 0, 0, 0, 0, 0, 0, 0, 0, 0, 2.8, 0, 0]
r_p43 = [0] * 19 + [0, 0, 0, 0, 3.2, 1.5, 0, 0, 0, 0, 0, 0, 0, 0, 0, 0, 2.0, 0, 0, 0, 0, 0, 0, 0, 3.0, 0, 0, 0, 0, 0, 0, 0, 0, 0, 0, 1.4, 0, 0, 0, 0]
r_p44 = [0] * 19 + [0, 0, 0, 0.5, 1.4, 4.8, 0, 0, 0, 0, 0, 0, 0, 2.0, 0, 0, 0, 0, 0, 0, 0, 0, 0, 0, 0, 0, 0, 0, 0, 2.6, 0, 0, 0, 0, 0, 0, 0, 0, 1.2, 0]
r_p45 = [0] * 15 + [1.7, 0.6, 0, 0] + [0, 0, 0, 0, 2.0, 1.0, 0, 0, 0, 0, 0, 0, 0, 0, 0, 0, 0, 0, 1.8, 0, 0, 0, 0, 0, 0, 0, 0, 0, 0, 0, 2.0, 0, 0, 0, 0, 0, 0, 4.3, 0, 0]
r_p46 = [0] * 19 + [0, 0, 0, 0, 1.2, 3.6, 0, 0, 0, 0, 0, 2.8, 0, 0, 0, 0, 0, 0, 0, 0, 0, 0, 0, 0, 15.0, 0.8, 0, 0, 0, 0, 0, 0, 0, 0, 0, 0, 0, 0, 0, 0]
r_p47 = [0] * 19 + [0, 0, 0, 0, 2.6, 1.8, 0, 0, 0, 0, 0, 0, 0, 0, 0, 3.4, 0, 0, 0, 0, 0, 0, 0, 0, 0, 0, 2.0, 0, 0, 0, 0, 0, 0, 0, 0, 0, 0, 1.0, 0, 0]
r_p48 = [0] * 19 + [0, 0, 0, 0, 0.8, 4.0, 0.6, 0, 0, 0, 0, 0, 0, 0, 0, 0, 0, 0, 0, 0, 1.6, 0, 0, 0, 0, 0, 0, 0, 0, 0, 0, 0, 3.2, 0, 0, 0, 0, 0, 0, 0]
r_p49 = [0] * 19 + [0, 0, 0, 0, 1.6, 2.2, 0, 0, 2.2, 0, 0, 0, 0, 0, 0, 0, 0, 0, 0, 0, 0, 0, 0, 1.4, 0, 0, 0, 0, 0, 0, 0, 0, 0, 0, 2.8, 0, 0, 0, 0, 0]
r_p50 = [0] * 19 + [0, 0, 0, 0, 0.6, 1.5, 0, 0, 0, 0, 0, 0, 0, 0, 0, 0, 0, 1.6, 0, 0, 0, 0, 0, 0, 0, 0, 0, 0, 2.0, 0, 0, 0, 0, 0, 0, 0, 0, 0, 0, 1.0]

member_temp = [t_p01, t_p02, t_p03, t_p04, t_p05, t_p06, t_p07, t_p08, t_p09, t_p10,
               t_p11, t_p12, t_p13, t_p14, t_p15, t_p16, t_p17, t_p18, t_p19, t_p20,
               t_p21, t_p22, t_p23, t_p24, t_p25, t_p26, t_p27, t_p28, t_p29, t_p30,
               t_p31, t_p32, t_p33, t_p34, t_p35, t_p36, t_p37, t_p38, t_p39, t_p40,
               t_p41, t_p42, t_p43, t_p44, t_p45, t_p46, t_p47, t_p48, t_p49, t_p50]
member_precip = [r_p01, r_p02, r_p03, r_p04, r_p05, r_p06, r_p07, r_p08, r_p09, r_p10,
                 r_p11, r_p12, r_p13, r_p14, r_p15, r_p16, r_p17, r_p18, r_p19, r_p20,
                 r_p21, r_p22, r_p23, r_p24, r_p25, r_p26, r_p27, r_p28, r_p29, r_p30,
                 r_p31, r_p32, r_p33, r_p34, r_p35, r_p36, r_p37, r_p38, r_p39, r_p40,
                 r_p41, r_p42, r_p43, r_p44, r_p45, r_p46, r_p47, r_p48, r_p49, r_p50]

# colour cycle used for P1..P20, repeated for P21..P50
member_colors = ["#1a2eb0", "#1650c0", "#1a6cb8", "#1890c0", "#18a8ac",
                 "#10a888", "#10a068", "#10a048", "#14b030", "#10c018",
                 "#bcbc1c", "#bcaa18", "#bc9a18", "#bc8a18", "#bc7818",
                 "#b46818", "#b05818", "#a84020", "#a03020", "#901818"]
OPER = "#10dc10"
CLIM = "#e83c3c"
GRID = "#3c3c3c"

fig = plt.figure(figsize=(8.5, 6.2), dpi=100, facecolor="black")
ax = fig.add_axes([163 / 850, 60 / 620, 647 / 850, 530 / 620])
ax.set_facecolor("black")
ax2 = ax.twinx()

for k in range(50):
    c = member_colors[k % 20]
    ax.plot(times_member, member_temp[k], color=c, lw=0.7, zorder=2)
    ax2.plot(times_6h, member_precip[k], color=c, lw=0.7, zorder=2)

ax.plot(times_6h, clim_temp, color=CLIM, lw=2.4, zorder=3)
ax.plot(times_6h, ens_mean_temp, color="white", lw=2.4, zorder=4)
ax.plot(times_6h, oper_temp, color=OPER, lw=2.8, zorder=5)
ax2.plot(times_6h, ens_mean_precip, color="white", lw=2.4, zorder=4)
ax2.plot(times_6h, oper_precip, color=OPER, lw=2.8, zorder=5)

ax.set_xlim(pd.Timestamp("2026-06-25 00:00"), pd.Timestamp("2026-07-10 06:00"))
ax.set_ylim(-10, 35)
ax2.set_ylim(0, 40)

ax.set_xticks(tick_days)
ax.xaxis.set_major_formatter(mdates.DateFormatter("%d%b %Hz"))
ax.xaxis.set_minor_locator(mdates.DayLocator())
ax.set_yticks(range(-10, 36, 5))
ax2.set_yticks(range(0, 41, 10))
ax2.yaxis.set_minor_locator(MultipleLocator(1))

ax.tick_params(axis="both", which="major", colors="white", labelsize=7.5, length=4)
ax.tick_params(axis="x", which="minor", length=0)
ax2.tick_params(axis="y", which="major", colors="white", labelsize=7.5,
                direction="in", length=7)
ax2.tick_params(axis="y", which="minor", colors="white", direction="in", length=4)

ax.set_axisbelow(True)
ax.grid(True, which="both", axis="x", color=GRID, ls=(0, (4, 4)), lw=0.9)
ax.grid(True, which="major", axis="y", color=GRID, ls=(0, (4, 4)), lw=0.9)
for a in (ax, ax2):
    for sp in a.spines.values():
        sp.set_color("white")

ax.set_xlabel("Date (UTC)", color="white", fontsize=7.5, labelpad=3)
ax.set_ylabel("850 hPa Temp. (°C)", color="white", fontsize=7.5, labelpad=2)
ax2.set_ylabel("Niederschlag (mm)", color="white", fontsize=7.5, labelpad=5)

fig.text(436 / 850, 1 - 12 / 620,
         "Pacsa  (HU)  850 hPa Temp. & Niederschlag | Thu, 25Jun2026 00Z",
         color="white", fontsize=11.5, fontweight="bold", ha="center", va="center")
fig.text(120 / 850, 1 - 598 / 620, "ECMWF Ensemble, 46.75N, 17E",
         color="white", fontsize=11.5, ha="left", va="center")
fig.text(795 / 850, 1 - 598 / 620, "Wetterzentrale.de",
         color="white", fontsize=11.5, ha="right", va="center")


def legend_entry(x_px, y_px, color, label, lw=1.6, text_dy=0):
    y = 1 - y_px / 620
    fig.add_artist(Line2D([x_px / 850, (x_px + 10) / 850], [y, y],
                          color=color, lw=lw, transform=fig.transFigure))
    fig.text((x_px + 11) / 850, 1 - (y_px + text_dy) / 620, label,
             color="white", fontsize=7.5, ha="left", va="center", linespacing=1.0)


for r in range(25):
    y_px = 40 + 15 * r
    legend_entry(3, y_px, member_colors[(2 * r) % 20], f"P{2 * r + 1}")
    legend_entry(80, y_px, member_colors[(2 * r + 1) % 20], f"P{2 * r + 2}")
legend_entry(3, 415, "white", "Ens. mean", lw=2)
legend_entry(80, 415, OPER, "Oper", lw=2)
legend_entry(3, 442, CLIM, "1991-2020\nmean", lw=2, text_dy=6)

fig.savefig("out.png", dpi=100, facecolor="black")
